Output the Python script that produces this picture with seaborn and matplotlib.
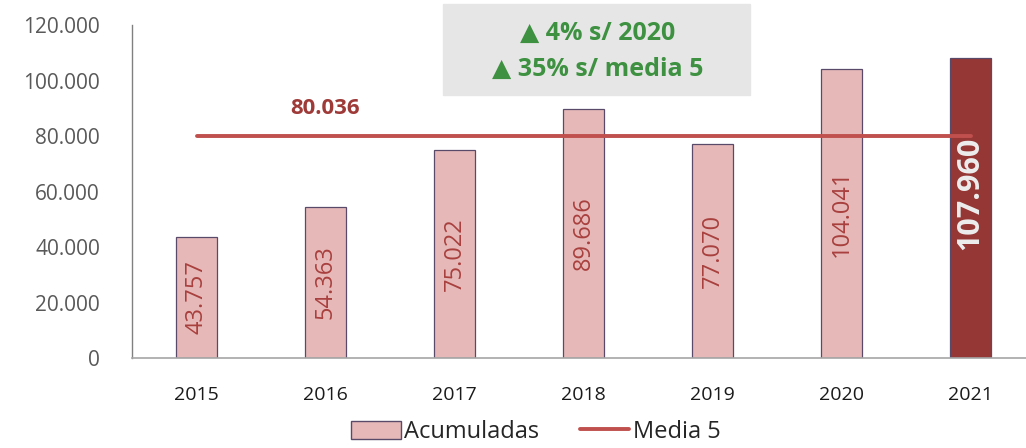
import matplotlib
matplotlib.use("Agg")
import matplotlib.pyplot as plt
import seaborn as sns
import pandas as pd
from matplotlib.patches import Patch
from matplotlib.lines import Line2D

years = ["2015", "2016", "2017", "2018", "2019", "2020", "2021"]
acumuladas = [43757, 54363, 75022, 89686, 77070, 104041, 107960]
media5 = 80036
box_lines = ["4% s/ 2020", "35% s/ media 5"]

sns.set_theme(style="white")
plt.rcParams['font.family'] = ['Open Sans', 'DejaVu Sans']

df = pd.DataFrame({"year": years, "value": acumuladas})
colors = ["#e6b9b8"] * (len(years) - 1) + ["#953735"]

W, H = 1026, 448
fig = plt.figure(figsize=(W / 100, H / 100), dpi=100)
ax = fig.add_axes([132 / W, 1 - 358 / H, (1035 - 132) / W, (358 - 25) / H])
sns.barplot(data=df, x="year", y="value", hue="year", palette=colors, legend=False,
            width=0.325, edgecolor="#5a4a6a", linewidth=0.9, ax=ax, saturation=1)

ax.plot([0, len(years) - 1], [media5, media5], color="#c0504d", lw=2.8, zorder=3,
        solid_capstyle="round")
ax.text(1, media5 + 9700, f"{media5:,}".replace(",", "."), color="#9e3a38",
        fontsize=16, fontweight="bold", ha="center", va="center")

for i, v in enumerate(acumuladas):
    last = i == len(years) - 1
    ax.text(i, v / 2 if not last else v * 0.55, f"{v:,}".replace(",", "."), rotation=90,
            ha="center", va="center",
            color="#eeeeee" if last else "#a8403e",
            fontsize=22 if last else 17, fontweight="bold" if last else "normal", zorder=4)

ax.set_ylim(0, 120000)
ax.set_xlim(-0.5, len(years) - 0.5)
ax.set_yticks(range(0, 120001, 20000))
ax.set_yticklabels([f"{t:,}".replace(",", ".") for t in range(0, 120001, 20000)],
                   fontsize=15, color="#595959")
ax.tick_params(axis="x", labelsize=14, colors="#1a1a1a", pad=14)
ax.tick_params(axis="y", pad=17)
ax.set_xlabel("")
ax.set_ylabel("")
for s in ["top", "right"]:
    ax.spines[s].set_visible(False)
ax.spines["left"].set_color("#808080")
ax.spines["bottom"].set_color("#a6a6a6")
ax.spines["left"].set_linewidth(1)
ax.spines["bottom"].set_linewidth(1.2)

# Annotation box
fig.patches.append(plt.Rectangle((443 / W, 1 - 95 / H), (750 - 443) / W, (95 - 4) / H,
                                 transform=fig.transFigure, color="#e6e6e6", zorder=0))
fig.text(598 / W, 1 - 33 / H, "▲ " + box_lines[0], color="#3d9140", fontsize=18,
         fontweight="bold", ha="center", va="center", family=['Open Sans', 'DejaVu Sans'])
fig.text(598 / W, 1 - 69 / H, "▲ " + box_lines[1], color="#3d9140", fontsize=18,
         fontweight="bold", ha="center", va="center", family=['Open Sans', 'DejaVu Sans'])

handles = [Patch(facecolor="#e6b9b8", edgecolor="#5a4a6a", label="Acumuladas"),
           Line2D([0], [0], color="#c0504d", lw=2.8, label="Media 5")]
fig.legend(handles=handles, loc="center", bbox_to_anchor=(536 / W, 1 - 432 / H), ncol=2,
           frameon=False, fontsize=17, handlelength=2.1, handleheight=0.8,
           handletextpad=0.15, columnspacing=1.7, borderpad=0)

fig.savefig("out.png", dpi=100)
